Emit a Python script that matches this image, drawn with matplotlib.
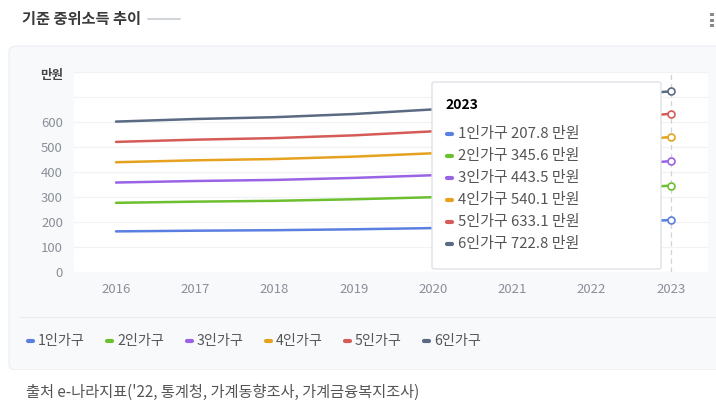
#!/usr/bin/env python3

import matplotlib
matplotlib.use("Agg")
import matplotlib.pyplot as plt
from matplotlib.patches import FancyBboxPatch, Rectangle
from matplotlib.lines import Line2D

plt.rcParams['font.family'] = ['Noto Sans CJK KR', 'DejaVu Sans']

# data (만원)
years = [2016, 2017, 2018, 2019, 2020, 2021, 2022, 2023]
labels = ['1인가구', '2인가구', '3인가구', '4인가구', '5인가구', '6인가구']
hh1 = [162.5, 165.2, 167.2, 170.8, 175.7, 182.8, 194.5, 207.8]
hh2 = [276.7, 281.4, 284.7, 290.9, 299.2, 308.9, 326.0, 345.6]
hh3 = [357.9, 364.0, 368.3, 376.3, 387.1, 398.4, 419.4, 443.5]
hh4 = [439.1, 446.8, 451.9, 461.4, 474.9, 487.6, 512.1, 540.1]
hh5 = [520.4, 529.3, 535.6, 546.6, 562.7, 576.7, 604.5, 633.1]
hh6 = [601.6, 612.0, 619.2, 631.9, 650.4, 665.8, 696.6, 722.8]
series = [hh1, hh2, hh3, hh4, hh5, hh6]
colors = ['#5b7fe0', '#6cbf2e', '#9a62e4', '#e6a21f', '#d55b57', '#5a6a82']
y_ticks = [0, 100, 200, 300, 400, 500, 600]

W, H = 716, 415


def fx(px):
    return px / W


def fy(py):
    return 1 - py / H


fig = plt.figure(figsize=(W / 100, H / 100), dpi=100)
fig.patch.set_facecolor('white')

# card background
card = FancyBboxPatch((fx(9), fy(370)), fx(760) - fx(9), fy(46) - fy(370),
                      boxstyle="round,pad=0,rounding_size=0.012",
                      transform=fig.transFigure, facecolor='#f8f9fb',
                      edgecolor='#eceef2', linewidth=0.8, zorder=-2)
fig.patches.append(card)
fig.lines.append(Line2D([fx(20), fx(716)], [fy(317), fy(317)],
                        transform=fig.transFigure, color='#e9ebef', lw=0.8, zorder=-1))
fig.patches.append(Rectangle((0, 0), 1, fy(370), transform=fig.transFigure,
                             facecolor='white', edgecolor='none', zorder=-1))
fig.lines.append(Line2D([fx(9), fx(716)], [fy(370), fy(370)],
                        transform=fig.transFigure, color='#eceef2', lw=0.8, zorder=-1))

# header
fig.text(fx(22), fy(19), '기준 중위소득 추이', fontsize=11, color='#3a3a3a',
         fontweight='bold', va='center', ha='left')
fig.lines.append(Line2D([fx(148), fx(180)], [fy(19), fy(19)],
                        transform=fig.transFigure, color='#c8ccd2', lw=1.2))
for dy in (15, 21, 26):
    fig.patches.append(Rectangle((fx(710), fy(dy + 1.5)), fx(3.5), fy(0) - fy(3.5),
                                 transform=fig.transFigure, facecolor='#888888',
                                 edgecolor='none'))

# plot area
ax = fig.add_axes([fx(74), fy(272), fx(708) - fx(74), fy(72) - fy(272)])
ax.set_facecolor('white')
x = list(range(len(years)))
for vals, c in zip(series, colors):
    ax.plot(x, vals, color=c, lw=1.8, solid_capstyle='round', zorder=3)
    ax.plot(x[-1], vals[-1], marker='o', markersize=5, markerfacecolor='white',
            markeredgecolor=c, markeredgewidth=1.2, zorder=4)
ax.axvline(x[-1], color='#d0d3d8', lw=0.9, ls=(0, (4, 3)), zorder=2)
ax.set_xlim(-0.53, 7.47)
ax.set_ylim(0, 800)
ax.set_yticks(range(0, 900, 100))
ax.set_yticklabels([str(v) if v in y_ticks else '' for v in range(0, 900, 100)])
ax.set_xticks(x)
ax.set_xticklabels([str(y) for y in years])
ax.grid(axis='y', color='#f1f2f4', lw=0.9)
ax.set_axisbelow(True)
for s in ax.spines.values():
    s.set_visible(False)
ax.tick_params(length=0, labelsize=9.5, labelcolor='#8a8f98')
ax.tick_params(axis='x', pad=8)
ax.tick_params(axis='y', pad=8)
fig.text(fx(52), fy(75), '만원', fontsize=9, color='#444444', fontweight='bold',
         ha='center', va='center')

# tooltip
tip = FancyBboxPatch((fx(432), fy(269)), fx(661) - fx(432), fy(82) - fy(269),
                     boxstyle="round,pad=0,rounding_size=0.004",
                     transform=fig.transFigure, facecolor='white',
                     edgecolor='#dcdfe4', linewidth=0.9, zorder=10)
fig.patches.append(tip)
fig.text(fx(445), fy(105), str(years[-1]), fontsize=10, fontweight='bold',
         color='black', va='center', zorder=11)
for i, (lab, vals, c) in enumerate(zip(labels, series, colors)):
    yy = 134 + i * 22
    fig.lines.append(Line2D([fx(447), fx(452)], [fy(yy), fy(yy)],
                            transform=fig.transFigure, color=c, lw=3,
                            solid_capstyle='round', zorder=11))
    fig.text(fx(458), fy(yy), f'{lab} {vals[-1]:.1f} 만원', fontsize=10.8,
             color='#555555', va='center', zorder=11)

# legend
lx = [28, 107, 187, 266, 345, 424]
for px, lab, c in zip(lx, labels, colors):
    fig.lines.append(Line2D([fx(px), fx(px + 5)], [fy(341), fy(341)],
                            transform=fig.transFigure, color=c, lw=3,
                            solid_capstyle='round'))
    fig.text(fx(px + 10), fy(341), lab, fontsize=10.2, color='#555555', va='center')

# source
fig.text(fx(26), fy(392), "출처 e-나라지표('22, 통계청, 가계동향조사, 가계금융복지조사)",
         fontsize=11, color='#555555', va='center')

fig.savefig('out.png', dpi=100)
